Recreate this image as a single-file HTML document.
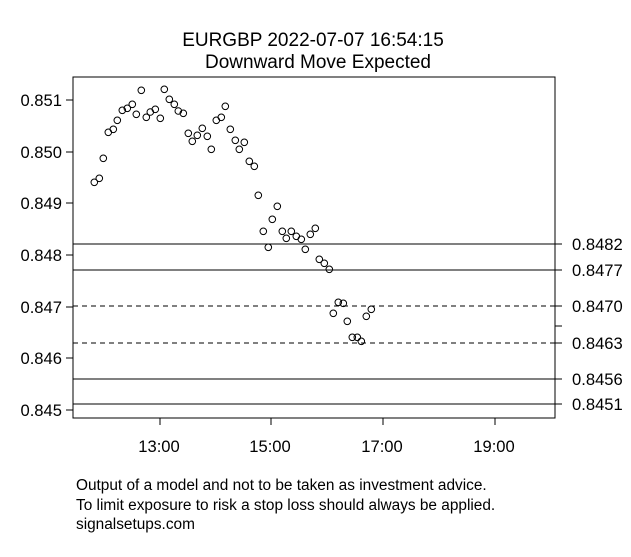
<!DOCTYPE html>
<html><head><meta charset="utf-8"><style>body{margin:0;background:#fff}</style></head><body>
<svg width="631" height="552" xmlns="http://www.w3.org/2000/svg" font-family="Liberation Sans, Arial, sans-serif">
<rect width="631" height="552" fill="#fff"/>
<text x="313" y="46" font-size="19" text-anchor="middle">EURGBP 2022-07-07 16:54:15</text>
<text x="318" y="68" font-size="19" text-anchor="middle">Downward Move Expected</text>
<rect x="73" y="77" width="482" height="341" fill="none" stroke="#000"/>
<g stroke="#000" fill="none">
<line x1="73" y1="244" x2="555" y2="244"/>
<line x1="73" y1="270" x2="555" y2="270"/>
<line x1="73" y1="306" x2="555" y2="306" stroke-dasharray="5,4"/>
<line x1="73" y1="343" x2="555" y2="343" stroke-dasharray="5,4"/>
<line x1="73" y1="379" x2="555" y2="379"/>
<line x1="73" y1="404" x2="555" y2="404"/>
<line x1="66" y1="100" x2="73" y2="100"/><line x1="66" y1="152" x2="73" y2="152"/><line x1="66" y1="203" x2="73" y2="203"/><line x1="66" y1="255" x2="73" y2="255"/><line x1="66" y1="307" x2="73" y2="307"/><line x1="66" y1="358" x2="73" y2="358"/><line x1="66" y1="410" x2="73" y2="410"/>
<line x1="555" y1="244" x2="562" y2="244"/><line x1="555" y1="270" x2="562" y2="270"/><line x1="555" y1="306" x2="562" y2="306"/><line x1="555" y1="326" x2="562" y2="326"/><line x1="555" y1="343" x2="562" y2="343"/><line x1="555" y1="379" x2="562" y2="379"/><line x1="555" y1="404" x2="562" y2="404"/>
<line x1="160" y1="418" x2="160" y2="425"/><line x1="271" y1="418" x2="271" y2="425"/><line x1="383" y1="418" x2="383" y2="425"/><line x1="495" y1="418" x2="495" y2="425"/>
</g>
<g font-size="16.6">
<g text-anchor="end"><text x="62" y="106">0.851</text><text x="62" y="158">0.850</text><text x="62" y="209">0.849</text><text x="62" y="261">0.848</text><text x="62" y="313">0.847</text><text x="62" y="364">0.846</text><text x="62" y="416">0.845</text></g>
<text x="572" y="250">0.8482</text><text x="572" y="276">0.8477</text><text x="572" y="312">0.8470</text><text x="572" y="349">0.8463</text><text x="572" y="385">0.8456</text><text x="572" y="410">0.8451</text>
<g text-anchor="middle"><text x="159" y="452">13:00</text><text x="270" y="452">15:00</text><text x="382" y="452">17:00</text><text x="494" y="452">19:00</text></g>
</g>
<g font-size="15.4">
<text x="76" y="490">Output of a model and not to be taken as investment advice.</text>
<text x="76" y="510">To limit exposure to risk a stop loss should always be applied.</text>
<text x="76" y="529">signalsetups.com</text>
</g>
<g fill="none" stroke="#000" stroke-width="1">
<circle cx="94.3" cy="182.3" r="3.3"/><circle cx="99.3" cy="178.3" r="3.3"/><circle cx="103.3" cy="158.3" r="3.3"/><circle cx="108.3" cy="132.3" r="3.3"/><circle cx="113.3" cy="129.3" r="3.3"/><circle cx="117.3" cy="120.3" r="3.3"/><circle cx="122.3" cy="110.3" r="3.3"/><circle cx="127.3" cy="108.3" r="3.3"/><circle cx="132.3" cy="104.3" r="3.3"/><circle cx="136.3" cy="114.3" r="3.3"/><circle cx="141.3" cy="90.3" r="3.3"/><circle cx="146.3" cy="117.3" r="3.3"/><circle cx="150.3" cy="112" r="3.3"/><circle cx="155.3" cy="109.3" r="3.3"/><circle cx="160.3" cy="118.3" r="3.3"/><circle cx="164.3" cy="89.3" r="3.3"/><circle cx="169.3" cy="99.3" r="3.3"/><circle cx="174.3" cy="104.3" r="3.3"/><circle cx="178.3" cy="111" r="3.3"/><circle cx="183.3" cy="113.3" r="3.3"/><circle cx="188.3" cy="133.3" r="3.3"/><circle cx="192.3" cy="141.3" r="3.3"/><circle cx="197.3" cy="135.3" r="3.3"/><circle cx="202.3" cy="128.3" r="3.3"/><circle cx="207.3" cy="136.3" r="3.3"/><circle cx="211.3" cy="149.3" r="3.3"/><circle cx="216.3" cy="120.3" r="3.3"/><circle cx="221.3" cy="117.3" r="3.3"/><circle cx="225.3" cy="106.3" r="3.3"/><circle cx="230.3" cy="129.3" r="3.3"/><circle cx="235.3" cy="140.3" r="3.3"/><circle cx="239.3" cy="149.3" r="3.3"/><circle cx="244.3" cy="142.3" r="3.3"/><circle cx="249.3" cy="161.3" r="3.3"/><circle cx="254.3" cy="166.3" r="3.3"/><circle cx="258.3" cy="195.3" r="3.3"/><circle cx="263.3" cy="231.3" r="3.3"/><circle cx="268.3" cy="247.3" r="3.3"/><circle cx="272.3" cy="219.3" r="3.3"/><circle cx="277.3" cy="206.3" r="3.3"/><circle cx="282.3" cy="231.3" r="3.3"/><circle cx="286.3" cy="238.3" r="3.3"/><circle cx="291.3" cy="231.3" r="3.3"/><circle cx="296.3" cy="236.3" r="3.3"/><circle cx="301.3" cy="239.3" r="3.3"/><circle cx="305.3" cy="249.3" r="3.3"/><circle cx="310.3" cy="234.3" r="3.3"/><circle cx="315.3" cy="228.3" r="3.3"/><circle cx="319.3" cy="259.3" r="3.3"/><circle cx="324.3" cy="263.3" r="3.3"/><circle cx="329.3" cy="269.3" r="3.3"/><circle cx="333.3" cy="313.3" r="3.3"/><circle cx="338.3" cy="302.3" r="3.3"/><circle cx="343.3" cy="303.3" r="3.3"/><circle cx="347.3" cy="321.3" r="3.3"/><circle cx="352.3" cy="337.3" r="3.3"/><circle cx="357.3" cy="337.3" r="3.3"/><circle cx="361.3" cy="341.3" r="3.3"/><circle cx="366.3" cy="316.3" r="3.3"/><circle cx="371.3" cy="309.3" r="3.3"/>
</g>
</svg>
</body></html>
